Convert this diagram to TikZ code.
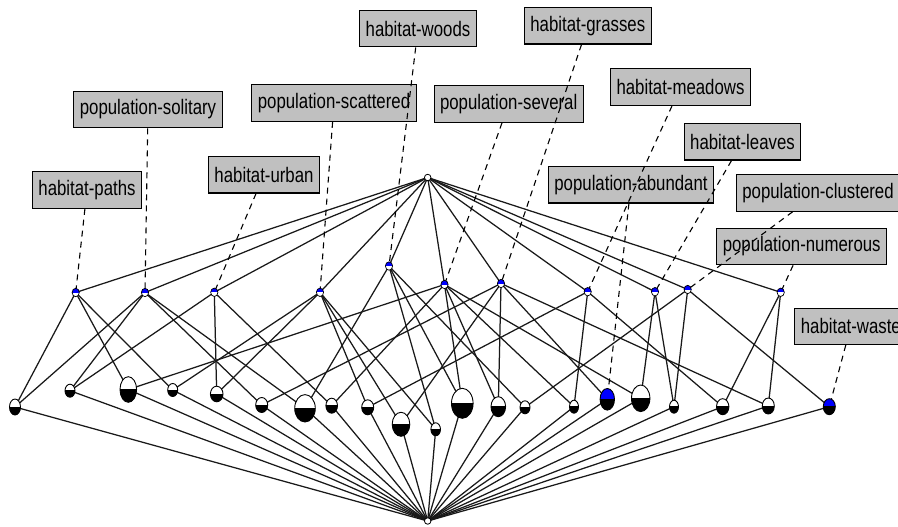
\documentclass[tikz,border=0pt]{standalone}
\usepackage{fontspec}
\setmainfont{Liberation Sans}
\usetikzlibrary{shapes.geometric}
\definecolor{labelgray}{RGB}{192,192,192}
\definecolor{attrblue}{RGB}{0,0,255}
\tikzset{
  edge/.style={line width=1.25pt,black!90},
  dashlink/.style={line width=1.1pt,black,dash pattern=on 6pt off 5pt},
  lbl/.style={draw=black,line width=1.1pt,fill=labelgray,inner xsep=6pt,inner ysep=0pt,minimum height=36.5pt,font=\fontsize{21}{21}\selectfont},
}
\newcommand\lbltext[1]{\scalebox{0.8}[1]{#1}}
% name x y rx ry topcolor
\newcommand\halfnode[6]{%
  \begin{scope}
    \clip (#2-#4-2,#3-#5-2) rectangle (#2+#4+2,#3);
    \fill[#6] (#2,#3) ellipse[x radius=#4,y radius=#5];
  \end{scope}
  \begin{scope}
    \clip (#2-#4-2,#3) rectangle (#2+#4+2,#3+#5+2);
    \fill[black] (#2,#3) ellipse[x radius=#4,y radius=#5];
  \end{scope}
  \node[ellipse,draw=black,line width=0.9pt,inner sep=0pt,minimum width=2*#4 pt,minimum height=2*#5 pt] (#1n) at (#2,#3) {};
}
\newcommand\midnode[3]{%
  \begin{scope}
    \clip (#2-6,#3-6) rectangle (#2+6,#3+0.5);
    \fill[attrblue] (#2,#3) ellipse[x radius=3.6,y radius=4.2];
  \end{scope}
  \begin{scope}
    \clip (#2-6,#3+0.5) rectangle (#2+6,#3+6);
    \fill[white] (#2,#3) ellipse[x radius=3.6,y radius=4.2];
  \end{scope}
  \node[ellipse,draw=black,line width=0.7pt,inner sep=0pt,minimum width=7.2pt,minimum height=8.4pt] (#1n) at (#2,#3) {};
}
\begin{document}
\begin{tikzpicture}[x=1pt,y=-1pt]
\useasboundingbox (0,0) rectangle (898,527);
\fill[white] (0,0) rectangle (898,527);
% coordinates
\coordinate (top) at (427.7,177.5);
\coordinate (bot) at (427.7,521);
\coordinate (m1) at (75.7,292.5);
\coordinate (m2) at (145,292.5);
\coordinate (m3) at (214.3,292.3);
\coordinate (m4) at (320,292.3);
\coordinate (m5) at (389,266);
\coordinate (m6) at (444.5,284.5);
\coordinate (m7) at (501,283.5);
\coordinate (m8) at (587.7,291.7);
\coordinate (m9) at (655,291.7);
\coordinate (m10) at (687.7,289.5);
\coordinate (m11) at (780.7,292.3);
\coordinate (b1) at (15,407);
\coordinate (b2) at (70,390.7);
\coordinate (b3) at (128.3,389.5);
\coordinate (b4) at (172.7,390);
\coordinate (b5) at (216.7,394);
\coordinate (b6) at (261.7,405);
\coordinate (b7) at (305,408.3);
\coordinate (b8) at (331.7,405.7);
\coordinate (b9) at (367.7,407.3);
\coordinate (b10) at (401,424.3);
\coordinate (b11) at (435.7,429.3);
\coordinate (b12) at (462.3,403.3);
\coordinate (b13) at (498.3,406.7);
\coordinate (b14) at (525,407.3);
\coordinate (b15) at (574,406.7);
\coordinate (b16) at (607.3,399.3);
\coordinate (b17) at (640.7,398.3);
\coordinate (b18) at (674,406.7);
\coordinate (b19) at (722.7,406.7);
\coordinate (b20) at (768.3,406);
\coordinate (b21) at (829.3,406.7);
% edges top
\foreach \m in {m1,m2,m3,m4,m5,m6,m7,m8,m9,m10,m11} \draw[edge] (top) -- (\m);
% edges to bottom
\foreach \b in {b1,b2,b3,b4,b5,b6,b7,b8,b9,b10,b11,b12,b13,b14,b15,b16,b17,b18,b19,b20,b21} \draw[edge] (\b) -- (bot);
% middle edges
\foreach \b/\m in {b1/m1,b1/m2,b2/m2,b2/m3,b3/m1,b3/m6,b4/m1,b4/m4,b5/m3,b5/m4,b6/m2,b6/m7,b7/m2,b7/m5,b8/m3,b8/m6,b9/m4,b9/m8,b10/m4,b10/m7,b11/m4,b11/m5,b12/m5,b12/m6,b13/m6,b13/m7,b14/m5,b14/m10,b15/m6,b15/m8,b16/m7,b17/m6,b17/m9,b18/m9,b18/m10,b19/m8,b19/m11,b20/m7,b20/m11,b21/m10}
  \draw[edge] (\b) -- (\m);
% labels
\node[lbl] (Lpaths) at (87,190) {\lbltext{habitat-paths}};
\node[lbl] (Lsolitary) at (148,109.5) {\lbltext{population-solitary}};
\node[lbl] (Lurban) at (264,174.7) {\lbltext{habitat-urban}};
\node[lbl] (Lscattered) at (334,103) {\lbltext{population-scattered}};
\node[lbl] (Lwoods) at (418,28.7) {\lbltext{habitat-woods}};
\node[lbl] (Lseveral) at (508.7,104) {\lbltext{population-several}};
\node[lbl] (Lgrasses) at (587.8,25.8) {\lbltext{habitat-grasses}};
\node[lbl] (Lmeadows) at (680.5,87.2) {\lbltext{habitat-meadows}};
\node[lbl] (Lleaves) at (742.5,141.7) {\lbltext{habitat-leaves}};
\node[lbl] (Labundant) at (631,184.7) {\lbltext{population-abundant}};
\node[lbl] (Lclustered) at (818,193) {\lbltext{population-clustered}};
\node[lbl] (Lnumerous) at (801.7,246.5) {\lbltext{population-numerous}};
\node[lbl,anchor=west] (Lwaste) at (794.3,326.3) {\lbltext{habitat-waste}};
% dashed links
\foreach \l/\t in {Lpaths/m1,Lsolitary/m2,Lurban/m3,Lscattered/m4,Lwoods/m5,Lseveral/m6,Lgrasses/m7,Lmeadows/m8,Lleaves/m9,Labundant/b16,Lclustered/m10,Lnumerous/m11,Lwaste/b21}
  \draw[dashlink] (\l) -- (\t);
% nodes
\node[circle,draw=black,fill=white,line width=0.8pt,inner sep=0pt,minimum size=6.5pt] (topn) at (top) {};
\node[circle,draw=black,fill=white,line width=0.8pt,inner sep=0pt,minimum size=6.5pt] (botn) at (bot) {};
\midnode{m1}{75.7}{292.5}
\midnode{m2}{145}{292.5}
\midnode{m3}{214.3}{292.3}
\midnode{m4}{320}{292.3}
\midnode{m5}{389}{266}
\midnode{m6}{444.5}{284.5}
\midnode{m7}{501}{283.5}
\midnode{m8}{587.7}{291.7}
\midnode{m9}{655}{291.7}
\midnode{m10}{687.7}{289.5}
\midnode{m11}{780.7}{292.3}
\halfnode{b1}{15}{407}{5.5}{8}{white}
\halfnode{b2}{70}{390.7}{5}{6.5}{white}
\halfnode{b3}{128.3}{389.5}{8.3}{12.8}{white}
\halfnode{b4}{172.7}{390}{5}{6.5}{white}
\halfnode{b5}{216.7}{394}{6.3}{7.8}{white}
\halfnode{b6}{261.7}{405}{6}{7.5}{white}
\halfnode{b7}{305}{408.3}{10.3}{13.7}{white}
\halfnode{b8}{331.7}{405.7}{5.8}{7.5}{white}
\halfnode{b9}{367.7}{407.3}{6}{7.5}{white}
\halfnode{b10}{401}{424.3}{8.8}{12}{white}
\halfnode{b11}{435.7}{429.3}{4.8}{6.5}{white}
\halfnode{b12}{462.3}{403.3}{10.8}{15}{white}
\halfnode{b13}{498.3}{406.7}{7.3}{10}{white}
\halfnode{b14}{525}{407.3}{5}{6.5}{white}
\halfnode{b15}{574}{406.7}{4.5}{6.5}{white}
\halfnode{b16}{607.3}{399.3}{7.2}{10.8}{attrblue}
\halfnode{b17}{640.7}{398.3}{9.2}{13.3}{white}
\halfnode{b18}{674}{406.7}{4.5}{6.5}{white}
\halfnode{b19}{722.7}{406.7}{6.2}{8}{white}
\halfnode{b20}{768.3}{406}{6}{8}{white}
\halfnode{b21}{829.3}{406.7}{6}{8}{attrblue}
\end{tikzpicture}
\end{document}
